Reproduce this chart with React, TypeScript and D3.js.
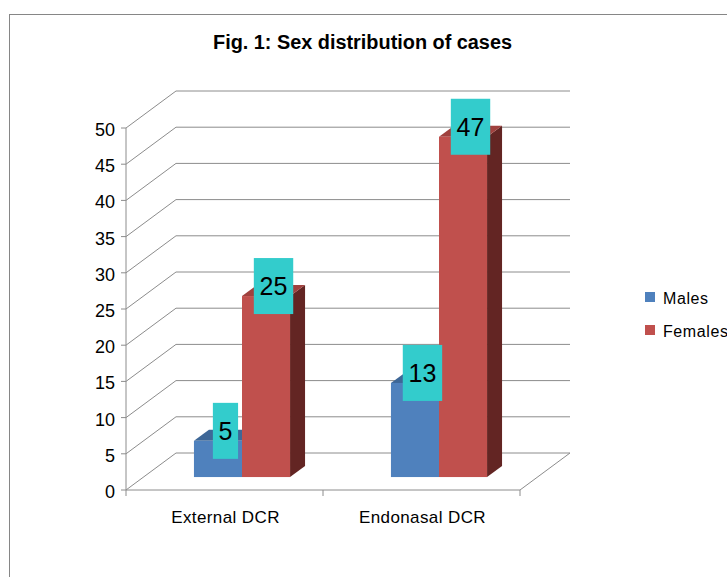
import * as d3 from 'd3';

const categories = ['External DCR', 'Endonasal DCR'];
const seriesNames = ['Males', 'Females'];
const males = [5, 13];
const females = [25, 47];
const yTicks = [0, 5, 10, 15, 20, 25, 30, 35, 40, 45, 50];

const W = 727;
const H = 577;
const fill = ['#4F81BD', '#C0504D'];
const topFill = ['#3E6797', '#A0413E'];
const sideFill = ['#2F4D72', '#632523'];

// 3d frame: front plane and back wall offset
const left = 126;
const right = 520;
const wallDx = 50;
const wallDy = -37;
// bars sit part way back, with their own depth
const barShift = 0.35;
const barDx = 15;
const barDy = -11;

export default function App() {
  const x = d3.scaleBand<string>().domain(categories).range([left, right]).padding(0);
  const y = d3.scaleLinear().domain([0, 50]).range([490, 128]);
  const inner = d3
    .scaleBand<string>()
    .domain(seriesNames)
    .range([0, x.bandwidth()])
    .paddingInner(0)
    .paddingOuter(1.05);

  const sx = wallDx * barShift;
  const sy = wallDy * barShift;
  const values = [males, females];
  const grid = '#8c8c8c';

  const bars: any[] = [];
  const labels: any[] = [];
  seriesNames.forEach((s, si) => {
    categories.forEach((c, ci) => {
      const v = values[si][ci];
      const x0 = (x(c) as number) + (inner(s) as number) + sx;
      const w = inner.bandwidth();
      const yb = y(0) + sy;
      const yt = y(v) + sy;
      bars.push(
        <g key={`${s}-${c}`}>
          <path
            d={`M${x0 + w},${yt}L${x0 + w + barDx},${yt + barDy}L${x0 + w + barDx},${yb + barDy}L${x0 + w},${yb}Z`}
            fill={sideFill[si]}
          />
          <path
            d={`M${x0},${yt}L${x0 + barDx},${yt + barDy}L${x0 + w + barDx},${yt + barDy}L${x0 + w},${yt}Z`}
            fill={topFill[si]}
          />
          <rect x={x0} y={yt} width={w} height={yb - yt} fill={fill[si]} />
        </g>
      );
      const cx = x0 + w / 2 + barDx / 2;
      const cy = yt + barDy / 2 - 4.5;
      const txt = String(v);
      const bw = txt.length * 14.2 + 11;
      labels.push(
        <g key={`l-${s}-${c}`}>
          <rect x={cx - bw / 2} y={cy - 28} width={bw} height={56} fill="#33CCCC" />
          <text
            x={cx}
            y={cy + 9}
            textAnchor="middle"
            fontSize={25}
            fontFamily="Liberation Sans, Arial, sans-serif"
            fill="#000"
          >
            {txt}
          </text>
        </g>
      );
    });
  });

  return (
    <svg
      width={W}
      height={H}
      style={{ position: 'absolute', left: 0, top: 0, display: 'block', background: '#fff' }}
      fontFamily="Liberation Sans, Arial, sans-serif"
    >
      <rect x={9.5} y={14.5} width={800} height={700} fill="#fff" stroke="#868686" />
      <text
        x={362.5}
        y={49}
        textAnchor="middle"
        fontSize={20}
        fontWeight="bold"
        textLength={299}
        lengthAdjust="spacingAndGlyphs"
      >
        Fig. 1: Sex distribution of cases
      </text>

      {/* walls and gridlines */}
      {yTicks.map((t) => (
        <g key={t}>
          <line x1={left} y1={y(t)} x2={left + wallDx} y2={y(t) + wallDy} stroke={grid} />
          <line
            x1={left + wallDx}
            y1={y(t) + wallDy}
            x2={right + wallDx}
            y2={y(t) + wallDy}
            stroke={grid}
          />
          <line x1={left - 5} y1={y(t)} x2={left} y2={y(t)} stroke={grid} />
          <text x={115} y={y(t) + 8} textAnchor="end" fontSize={18} fill="#000">
            {t}
          </text>
        </g>
      ))}
      <line x1={left} y1={y(0)} x2={right} y2={y(0)} stroke={grid} />
      <line x1={right} y1={y(0)} x2={right + wallDx} y2={y(0) + wallDy} stroke={grid} />
      <line x1={left} y1={y(50)} x2={left} y2={y(0)} stroke={grid} />
      {[left, ...categories.map((c) => (x(c) as number) + x.bandwidth())].map((tx, i) => (
        <line key={i} x1={tx} y1={y(0)} x2={tx} y2={y(0) + 6} stroke={grid} />
      ))}
      {categories.map((c) => (
        <text
          key={c}
          x={(x(c) as number) + x.bandwidth() / 2 + 1}
          y={523}
          textAnchor="middle"
          fontSize={17}
          letterSpacing={0.4}
          fill="#000"
        >
          {c}
        </text>
      ))}

      {bars}
      {labels}

      {/* legend */}
      {seriesNames.map((s, i) => (
        <g key={s} transform={`translate(645,${292 + i * 33})`}>
          <rect width={10} height={10} fill={fill[i]} />
          <text x={18} y={12} fontSize={16} fill="#000" letterSpacing={0.6}>
            {s}
          </text>
        </g>
      ))}
    </svg>
  );
}
